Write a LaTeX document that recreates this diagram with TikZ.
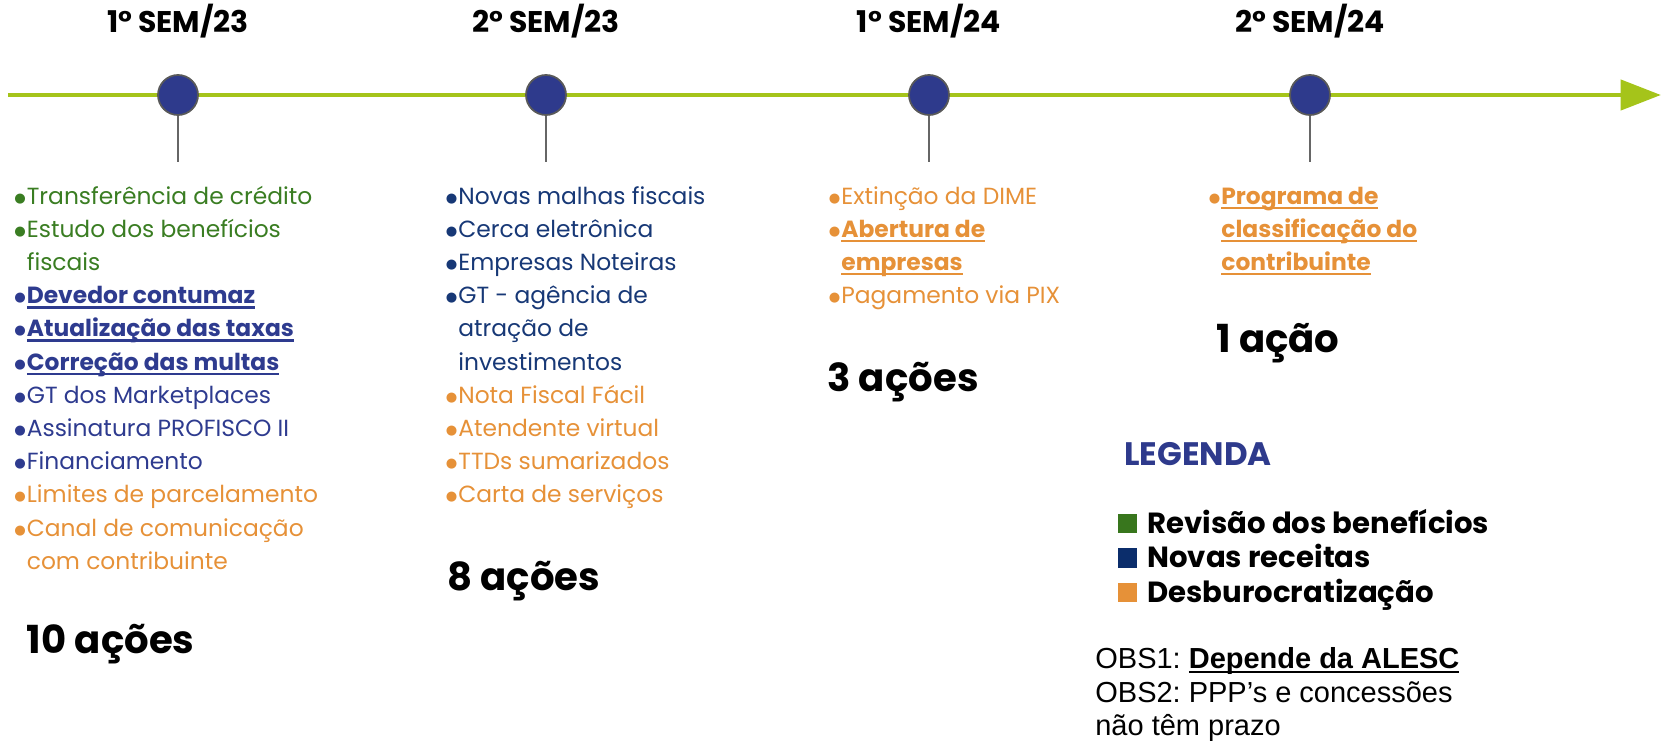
\documentclass[tikz,border=0pt]{standalone}
\usepackage{fontspec}
\setmainfont{Poppins}
\newfontfamily\arialfont{Liberation Sans}
\newfontfamily\dejavufont{DejaVu Sans}
\usetikzlibrary{arrows.meta}

\definecolor{linegreen}{HTML}{A5C41A}
\definecolor{dotblue}{HTML}{2E3A8C}
\definecolor{txtgreen}{HTML}{3A7D22}
\definecolor{txtblue}{HTML}{2E3B8F}
\definecolor{txtnavy}{HTML}{173876}
\definecolor{txtorange}{HTML}{E69138}
\definecolor{keygreen}{HTML}{38761D}
\definecolor{keynavy}{HTML}{0B2D6B}

\newcommand{\bl}{\llap{\raisebox{1.1pt}{\dejavufont\fontsize{7.5}{8}\selectfont ●}\hspace{0.5pt}}}
\newcommand{\ulin}[1]{\sbox0{#1}\rlap{\rule[-2.8pt]{\wd0}{1.3pt}}\usebox0}
\newcommand{\ulb}[1]{\ulin{\bfseries #1}}

\tikzset{
  semtitle/.style={anchor=base,inner sep=0pt,font=\fontsize{17}{20}\selectfont\bfseries},
  milestone/.style={circle,draw=black!65,line width=1pt,fill=dotblue,minimum size=0.8cm,inner sep=0pt},
  stem/.style={draw=black!60,line width=1.1pt},
  item/.style={anchor=base west,inner sep=0pt,font=\fontsize{13.3}{15}\selectfont},
  tally/.style={anchor=base west,inner sep=0pt,font=\fontsize{22}{26}\selectfont\bfseries},
  legtitle/.style={anchor=base west,inner sep=0pt,text=dotblue,font=\fontsize{18.5}{22}\selectfont\bfseries},
  keybox/.style={rectangle,minimum size=0.39cm,inner sep=0pt},
  keytext/.style={anchor=base west,inner sep=0pt,font=\fontsize{16.6}{19}\selectfont\bfseries},
  obs/.style={anchor=base west,inner sep=0pt,font=\arialfont\fontsize{16.5}{19}\selectfont}
}

\begin{document}
\begin{tikzpicture}[x=0.02cm,y=-0.02cm]
\useasboundingbox (0,0) rectangle (1662,740);

% linha do tempo
\coordinate (tstart) at (8,95);
\coordinate (tend) at (1661,95);
\draw[linegreen,line width=2.8pt,-{Triangle[length=23pt,width=17pt]}] (tstart) -- (tend);

\foreach \x/\s/\yr [count=\i] in {178/1/23,546/2/23,929/1/24,1310/2/24}{
    \node[semtitle] (t\i) at (\x,33) {\s° SEM/\yr};
    \node[milestone] (m\i) at (\x,95) {};
    \coordinate (s\i) at (\x,162);
    \draw[stem] (m\i) -- (s\i);
}

% 1o sem/23
\foreach \c/\txt [count=\i from 0] in {
    txtgreen/\bl Transferência de crédito,
    txtgreen/\bl Estudo dos benefícios,
    txtgreen/fiscais,
    txtblue/\bl\ulb{Devedor contumaz},
    txtblue/\bl\ulb{Atualização das taxas},
    txtblue/\bl\ulb{Correção das multas},
    txtblue/\bl GT dos Marketplaces,
    txtblue/\bl Assinatura PROFISCO II,
    txtblue/\bl Financiamento,
    txtorange/\bl Limites de parcelamento,
    txtorange/\bl Canal de comunicação,
    txtorange/com contribuinte}
    \node[item,text=\c] (a\i) at (26.5,{204+33.2*\i}) {\txt};

% 2o sem/23
\foreach \c/\txt [count=\i from 0] in {
    txtnavy/\bl Novas malhas fiscais,
    txtnavy/\bl Cerca eletrônica,
    txtnavy/\bl Empresas Noteiras,
    txtnavy/\bl GT - agência de,
    txtnavy/atração de,
    txtnavy/investimentos,
    txtorange/\bl Nota Fiscal Fácil,
    txtorange/\bl Atendente virtual,
    txtorange/\bl TTDs sumarizados,
    txtorange/\bl Carta de serviços}
    \node[item,text=\c] (b\i) at (458,{204+33.2*\i}) {\txt};

% 1o sem/24
\foreach \c/\txt [count=\i from 0] in {
    txtorange/\bl Extinção da DIME,
    txtorange/\bl\ulb{Abertura de},
    txtorange/\ulb{empresas},
    txtorange/\bl Pagamento via PIX}
    \node[item,text=\c] (c\i) at (841,{204+33.2*\i}) {\txt};

% 2o sem/24
\foreach \txt [count=\i from 0] in {
    \bl\ulb{Programa de},
    \ulb{classificação do},
    \ulb{contribuinte}}
    \node[item,text=txtorange] (d\i) at (1221,{204+33.2*\i}) {\txt};

\node[tally] (n1) at (26.5,653) {10 ações};
\node[tally] (n2) at (447,590) {8 ações};
\node[tally] (n3) at (827,391) {3 ações};
\node[tally] (n4) at (1216,352) {1 ação};

% legenda
\node[legtitle] (leg) at (1124,465) {LEGENDA};
\foreach \c/\txt [count=\i from 0] in {
    keygreen/Revisão dos benefícios,
    keynavy/Novas receitas,
    txtorange/Desburocratização}{
    \node[keybox,fill=\c] (k\i) at (1127.5,{523.5+34.5*\i}) {};
    \node[keytext] (kt\i) at (1147,{533+34.5*\i}) {\txt};
}

\node[obs] (o1) at (1095,668) {OBS1:\ \ulin{\bfseries Depende da ALESC}};
\node[obs] (o2) at (1095,702) {OBS2:\ PPP’s e concessões};
\node[obs] (o3) at (1095,735) {não têm prazo};
\end{tikzpicture}
\end{document}
